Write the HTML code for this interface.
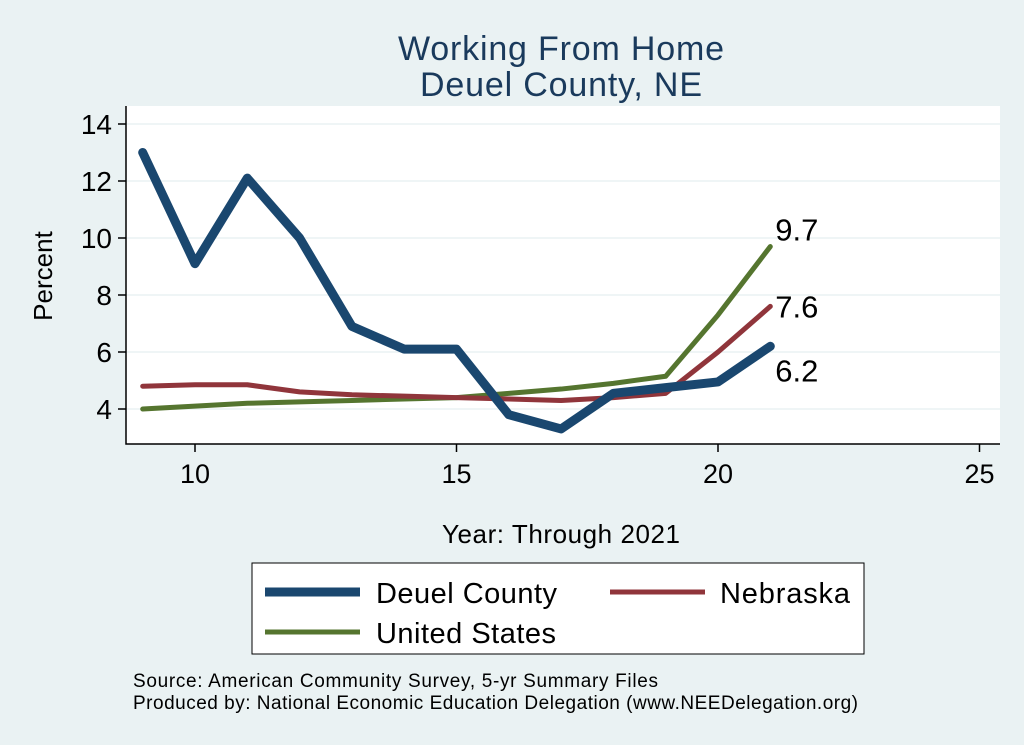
<!DOCTYPE html>
<html><head><meta charset="utf-8"><style>
body{margin:0;background:#eaf2f3;}
svg{display:block;font-family:"Liberation Sans",Arial,sans-serif;}
</style></head><body>
<svg width="1024" height="745" viewBox="0 0 1024 745">
<rect x="0" y="0" width="1024" height="745" fill="#eaf2f3"/>
<text x="561" y="60" font-size="34" fill="#1a3a5c" text-anchor="middle" textLength="326">Working From Home</text>
<text x="561" y="96" font-size="34" fill="#1a3a5c" text-anchor="middle" textLength="282">Deuel County, NE</text>
<rect x="126" y="106" width="874" height="338" fill="#ffffff"/>
<g id="grid"></g>
<g id="series"></g>
<g id="axes"></g>
<text x="52" y="276" font-size="26" fill="#000" text-anchor="middle" transform="rotate(-90 52 276)">Percent</text>
<text x="561" y="543" font-size="26" fill="#000" text-anchor="middle" textLength="238">Year: Through 2021</text>
<g>
<rect x="252" y="563" width="612" height="91" fill="#fff" stroke="#000" stroke-width="1"/>
<line x1="265" y1="592" x2="360" y2="592" stroke="#1a476f" stroke-width="9"/>
<text x="376" y="603" font-size="29" textLength="181">Deuel County</text>
<line x1="610" y1="592" x2="705" y2="592" stroke="#90353b" stroke-width="5"/>
<text x="720" y="603" font-size="29" textLength="130">Nebraska</text>
<line x1="265" y1="632" x2="360" y2="632" stroke="#55752f" stroke-width="5"/>
<text x="376" y="643" font-size="29" textLength="180">United States</text>
</g>
<text x="133" y="687" font-size="19" textLength="525">Source: American Community Survey, 5-yr Summary Files</text>
<text x="133" y="709" font-size="19" textLength="725">Produced by: National Economic Education Delegation (www.NEEDelegation.org)</text>
</svg>
<script>
const years=[9,10,11,12,13,14,15,16,17,18,19,20,21];
const deuel=[13.0,9.1,12.1,10.0,6.9,6.1,6.1,3.8,3.3,4.55,4.75,4.95,6.2];
const nebraska=[4.8,4.85,4.85,4.6,4.5,4.45,4.4,4.35,4.3,4.4,4.55,6.0,7.6];
const us=[4.0,4.1,4.2,4.25,4.3,4.35,4.4,4.55,4.7,4.9,5.15,7.3,9.7];
const yTicks=[4,6,8,10,12,14];
const xTicks=[10,15,20,25];
const endLabels=["6.2","7.6","9.7"];
const NS="http://www.w3.org/2000/svg";
function X(v){return 195+(v-10)*52.3;}
function Y(v){return 409-(v-4)*28.5;}
function mk(tag,attrs,parent){const e=document.createElementNS(NS,tag);for(const k in attrs)e.setAttribute(k,attrs[k]);document.getElementById(parent).appendChild(e);return e;}
yTicks.forEach(t=>{
 const g=mk('line',{x1:126,x2:1000,y1:Y(t),y2:Y(t),stroke:'#eaf2f3','stroke-width':1.5},'grid');
 
 
 const tk=mk('line',{x1:118,x2:126,y1:Y(t),y2:Y(t),stroke:'#000','stroke-width':1.5},'axes');
 
 
 const tx=mk('text',{x:112,y:Y(t)+10,'font-size':28,'text-anchor':'end'},'axes');
 tx.textContent=t;
 
 
});
xTicks.forEach(t=>{
 const tk=mk('line',{x1:X(t),x2:X(t),y1:444,y2:452,stroke:'#000','stroke-width':1.5},'axes');
 
 
 const tx=mk('text',{x:X(t),y:483,'font-size':27,'text-anchor':'middle'},'axes');
 tx.textContent=t;
 
 
});
const ax=mk('path',{d:'M126 106 V444 H1000',fill:'none',stroke:'#000','stroke-width':1.5},'axes');


function line(data,color,w,name){
 const p=mk('polyline',{points:data.map((v,i)=>X(years[i])+','+Y(v)).join(' '),fill:'none',stroke:color,'stroke-width':w,'stroke-linejoin':'round','stroke-linecap':'round'},'series');
 
 
}
line(us,'#55752f',5,'line-united-states');
line(nebraska,'#90353b',5,'line-nebraska');
line(deuel,'#1a476f',9,'line-deuel-county');
const last=years.length-1;
[[deuel,0,35],[nebraska,1,11],[us,2,-6]].forEach(([d,i,dy])=>{
 const t=mk('text',{x:X(years[last])+5,y:Y(d[last])+dy,'font-size':31},'series');
 t.textContent=endLabels[i];
 
 
});
</script>
</body></html>
